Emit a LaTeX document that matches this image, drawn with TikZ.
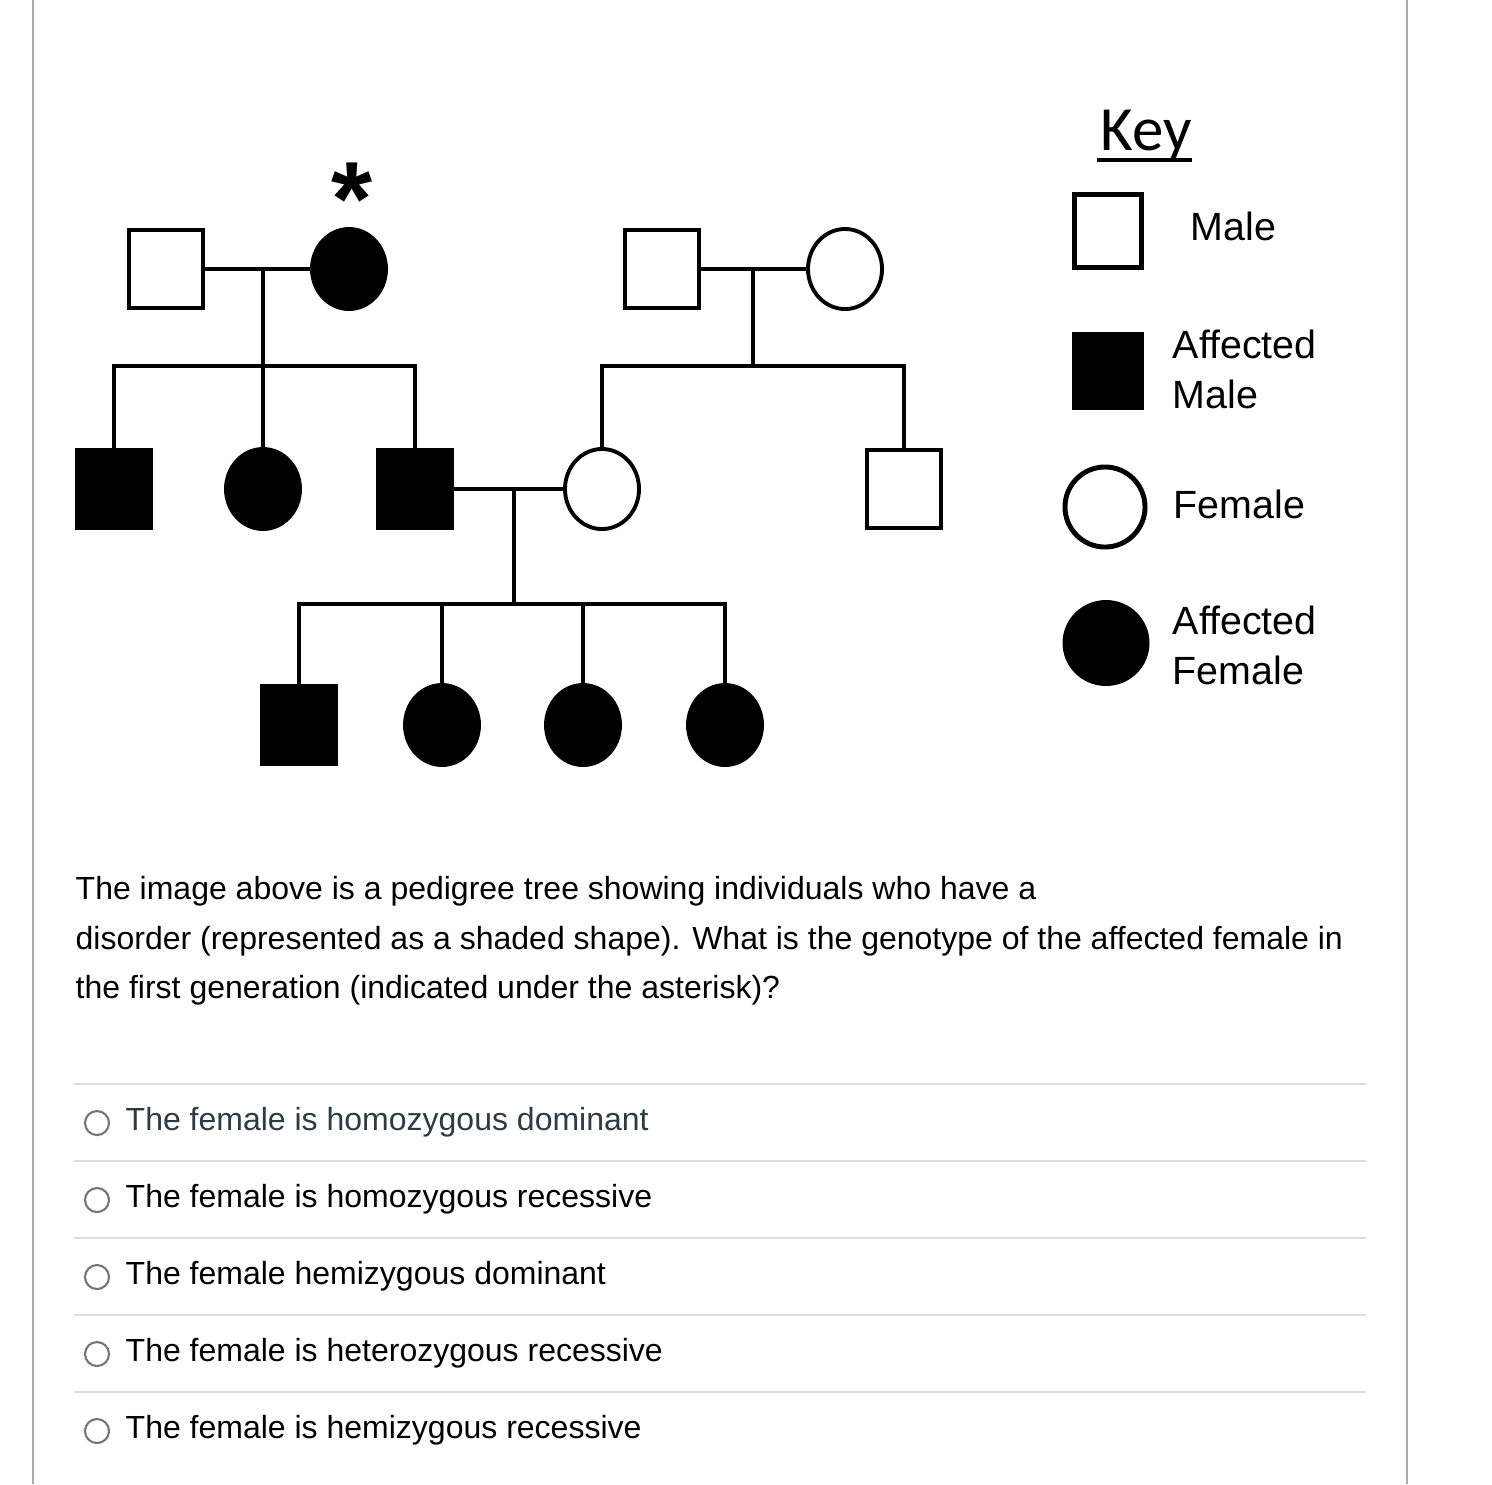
\documentclass[tikz,border=0pt]{standalone}
\usepackage{fontspec}
\setmainfont{Liberation Sans}
\newfontfamily\keyfont{Carlito}
\usetikzlibrary{positioning,shapes.geometric}
\definecolor{frame}{RGB}{170,170,170}
\definecolor{rule}{RGB}{221,221,221}
\definecolor{radio}{RGB}{117,117,117}
\definecolor{hover}{RGB}{45,59,69}

\begin{document}
\begin{tikzpicture}[x=0.01cm, y=-0.01cm,
		male/.style={draw, line width=1.1pt, rectangle, minimum width=0.74cm, minimum height=0.78cm, inner sep=0pt},
		female/.style={draw, line width=1.1pt, ellipse, minimum width=0.74cm, minimum height=0.80cm, inner sep=0pt},
		keybox/.style={draw, line width=1.4pt, inner sep=0pt},
		aff/.style={fill=black},
		rel/.style={line width=0.9pt},
		lbl/.style={font=\fontsize{11.2}{14}\selectfont, inner sep=0pt, align=left, anchor=base west},
		txt/.style={font=\fontsize{9.1}{13.94}\selectfont, inner sep=0pt, align=left, anchor=base west},
		opt/.style={circle, draw=radio, line width=0.6pt, minimum size=0.24cm, inner sep=0pt}]
		\useasboundingbox (0,0) rectangle (1492,1484);
		\draw[frame, line width=0.6pt] (33,0) -- (33,1484);
		\draw[frame, line width=0.6pt] (1407,0) -- (1407,1484);

		% first generation
		\node[male] (gf1) at (166,269) {};
		\node[female, aff] (gm1) at (349,269) {};
		\node[font=\bfseries\fontsize{30}{30}\selectfont, inner sep=0pt, anchor=north] (star) at (352,162) {*};
		\node[male] (gf2) at (662,269) {};
		\node[female] (gm2) at (845,269) {};

		% second generation
		\node[male, aff] (s1) at (114,489) {};
		\node[female, aff] (s2) at (263,489) {};
		\node[male, aff] (s3) at (415,489) {};
		\node[female] (w3) at (602,489) {};
		\node[male] (b4) at (904,489) {};

		% third generation
		\node[male, aff] (c1) at (299,725) {};
		\node[female, aff] (c2) at (442,725) {};
		\node[female, aff] (c3) at (583,725) {};
		\node[female, aff] (c4) at (725,725) {};

		\coordinate (m1) at (263,269);
		\coordinate (j1) at (263,366);
		\coordinate (m2) at (753,269);
		\coordinate (j2) at (753,366);
		\coordinate (m3) at (514,489);
		\coordinate (j3) at (514,604);

		\draw[rel] (gf1) -- (gm1);
		\draw[rel] (m1) -- (j1);
		\draw[rel] (s1.north) |- (j1) -| (s3.north);
		\draw[rel] (j1) -- (s2.north);

		\draw[rel] (gf2) -- (gm2);
		\draw[rel] (m2) -- (j2);
		\draw[rel] (w3.north) |- (j2) -| (b4.north);

		\draw[rel] (s3) -- (w3);
		\draw[rel] (m3) -- (j3);
		\draw[rel] (c1.north) |- (j3) -| (c4.north);
		\draw[rel] (c2.north) -- (c2.north |- j3);
		\draw[rel] (c3.north) -- (c3.north |- j3);

		% key
		\node[font=\keyfont\fontsize{17.9}{18}\selectfont, inner sep=0pt, anchor=base west] (key) at (1100,150) {Key};
		\draw[line width=1pt] ([xshift=-1pt, yshift=-2.8pt]key.base west) -- ([yshift=-2.8pt]key.base east);
		\node[keybox, minimum width=0.67cm, minimum height=0.73cm] (kmale) at (1108,231) {};
		\node[keybox, aff, minimum width=0.67cm, minimum height=0.73cm] (kaffm) at (1108,371) {};
		\node[keybox, circle, minimum size=0.80cm] (kfem) at (1105,507) {};
		\node[keybox, aff, ellipse, minimum width=0.82cm, minimum height=0.81cm] (kafff) at (1106,643) {};
		\node[lbl] (lmale) at (1190,240) {Male};
		\node[lbl] (laffm) at (1172,408) {Affected\\Male};
		\node[lbl] (lfem) at (1173,518) {Female};
		\node[lbl] (lafff) at (1172,684) {Affected\\Female};

		% question
		\node[txt] (q) at (75,998) {The image above is a pedigree tree showing individuals who have a\\
			disorder (represented as a shaded shape). What is the genotype of the affected female in\\
			the first generation (indicated under the asterisk)?};

		% answers
		\draw[rule, line width=0.6pt] (74,1084) -- (1366,1084);
		\draw[rule, line width=0.6pt] (74,1161) -- (1366,1161);
		\draw[rule, line width=0.6pt] (74,1238) -- (1366,1238);
		\draw[rule, line width=0.6pt] (74,1315) -- (1366,1315);
		\draw[rule, line width=0.6pt] (74,1392) -- (1366,1392);
		\node[opt] (r1) at (97,1123) {};
		\node[opt] (r2) at (97,1200) {};
		\node[opt] (r3) at (97,1277) {};
		\node[opt] (r4) at (97,1354) {};
		\node[opt] (r5) at (97,1431) {};
		\node[txt, text=hover] (a1) at (125,1130) {The female is homozygous dominant};
		\node[txt] (a2) at (125,1207) {The female is homozygous recessive};
		\node[txt] (a3) at (125,1284) {The female hemizygous dominant};
		\node[txt] (a4) at (125,1361) {The female is heterozygous recessive};
		\node[txt] (a5) at (125,1438) {The female is hemizygous recessive};
	\end{tikzpicture}
\end{document}
